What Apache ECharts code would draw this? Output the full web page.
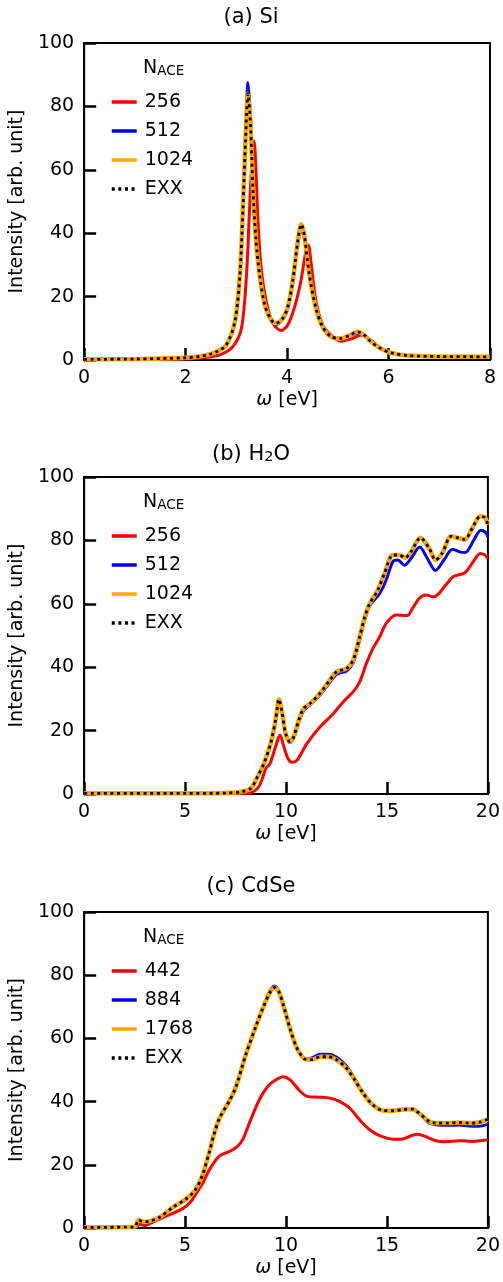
<!DOCTYPE html>
<html><head><meta charset="utf-8">
<script src="https://cdn.jsdelivr.net/npm/echarts@6/dist/echarts.min.js"></script>
<style>html,body{margin:0;padding:0;background:#fff}#c{width:503px;height:1282px}</style>
</head><body><div id="c"></div>
<script>
// ---------- (a) Si ----------
const siX    = [0,1,2,2.3,2.5,2.61,2.8,2.97,3.07,3.13,3.18,3.23,3.28,3.33,3.39,3.46,3.56,3.69,3.78,3.9,4.01,4.11,4.21,4.28,4.34,4.44,4.57,4.7,4.86,5.05,5.25,5.38,5.52,5.65,5.84,6.04,6.37,7,8];
const siEXX  = [0.2,0.3,0.7,1.2,1.9,2.6,4.7,12,26.8,47.8,68.9,84,74,53,37.3,26.8,17.4,12.6,11.6,12.8,16.5,24.7,37.3,42.8,39.4,26.8,16.3,10.5,7.4,6.8,7.9,8.9,7.9,5.8,3.7,2.3,1.4,1.1,1.0];
const si1024 = [0.2,0.3,0.7,1.2,1.9,2.6,4.7,12,26.8,47.8,68.9,84,74,53,37.3,26.8,17.4,12.6,11.6,12.8,16.5,24.7,37.3,42.8,39.4,26.8,16.3,10.5,7.4,6.8,7.9,8.9,7.9,5.8,3.7,2.3,1.4,1.1,1.0];
const si512  = [0.2,0.3,0.7,1.2,1.9,2.6,4.7,12,27,49,70.5,87.5,76,54,37.5,26.5,17,12.2,11.2,12.5,16,24,36.5,41,38.5,26.5,16.3,10.5,7.4,6.9,7.7,8.4,7.7,5.8,3.7,2.3,1.4,1.1,1.0];
const siRX   = [0,1,2,2.4,2.67,2.93,3.1,3.2,3.26,3.31,3.35,3.39,3.43,3.49,3.59,3.72,3.88,4.01,4.14,4.27,4.37,4.42,4.47,4.57,4.7,4.8,5.06,5.29,5.46,5.65,5.84,6.04,6.37,7,8];
const si256  = [0.1,0.15,0.3,0.8,1.6,4.2,10,26.8,47.8,63.6,69,58.4,42.6,28.9,18.4,11.6,9.3,11,16.3,24.7,34.2,36.2,31,18.4,11,8.9,5.9,6.8,7.9,6.3,3.7,2.3,1.4,1.1,1.0];

// ---------- (b) H2O ----------
const hX     = [0,5,7,7.77,8.26,8.59,8.91,9.24,9.48,9.65,9.81,9.98,10.19,10.38,10.63,10.87,11.2,11.69,12.18,12.51,13.0,13.33,13.65,13.9,14.15,14.55,14.88,15.29,15.62,15.9,16.19,16.66,17.09,17.41,17.74,18.18,18.56,18.86,19.22,19.62,19.85,20];
const hEXX   = [0.2,0.2,0.3,0.7,1.8,5.5,9.7,16,23.3,29.9,25.4,19.1,16.5,18.1,23.3,27,28.6,31.8,36,38.6,39.6,42.3,49.6,55.9,60.1,64.4,69.6,75.4,75.4,74.5,76.4,80.8,77.5,73.8,76,81.3,80.7,80.3,83.8,87.6,87.2,84.9];
const h1024  = [0.2,0.2,0.3,0.7,1.8,5.5,9.7,16,23.3,29.9,25.4,19.1,16.5,18.1,23.3,27,28.6,31.8,36,38.6,39.6,42.3,49.6,55.9,60.1,64.4,69.6,75.4,75.4,74.5,76.4,80.8,77.5,73.8,76,81.3,80.7,80.3,83.8,87.6,87.2,84.9];
const hBX    = [0,5,7,7.77,8.26,8.59,8.91,9.24,9.48,9.65,9.81,9.98,10.19,10.38,10.63,10.87,11.2,11.69,12.18,12.51,13.0,13.33,13.65,13.9,14.15,14.64,14.96,15.29,15.53,15.87,16.19,16.62,17.0,17.4,17.82,18.25,18.64,18.89,19.3,19.65,19.87,20];
const h512   = [0.2,0.2,0.3,0.7,1.8,5.4,9.6,15.8,23,29.5,25.2,19,16.2,17.6,22.5,26.3,28.2,31.3,35.3,37.8,38.8,41.5,48.6,55,59.4,63.3,67.5,73.3,73.8,72.2,74.3,77.9,74.3,70.5,73.8,77.2,76.3,76.2,80.1,83.2,82.6,81.2];
const hRX    = [0,5,8.1,8.59,8.83,9.0,9.2,9.48,9.7,9.89,10.09,10.3,10.55,11.04,11.69,12.35,12.84,13.33,13.65,13.98,14.31,14.64,14.96,15.45,16.0,16.27,16.6,16.93,17.3,17.58,17.91,18.3,18.86,19.22,19.62,19.85,20];
const h256   = [0.1,0.1,0.2,1.8,4.9,8.1,9.5,14.9,18.6,14.9,11.3,10,10.7,16,21.2,25.4,29.1,32.3,35.4,41.2,46,49.6,53.8,56.5,56.3,58.6,61.7,62.8,62.2,63.3,65.9,68.6,69.8,72.8,75.9,75.4,74.3];

// ---------- (c) CdSe ----------
const cX     = [0,2.4,2.55,2.7,2.9,3.2,3.76,4.41,5.07,5.5,5.85,6.2,6.45,6.7,7.19,7.52,8.0,8.5,8.9,9.2,9.42,9.65,9.89,10.22,10.55,10.96,11.28,11.69,12.1,12.51,13.0,13.41,13.82,14.31,14.8,15.29,15.78,16.27,16.6,17.09,17.42,18.07,18.56,19.05,19.54,20];
const cEXX   = [0.2,0.3,0.6,2.6,2.0,2.1,3.5,6.6,9.3,12,16.5,24,30,34.7,40.2,44.7,54.7,63.7,70.3,74.5,76.1,74.7,70,62.6,56.8,53.4,53.3,54.2,54.2,53.2,50.5,46.8,42.6,38.9,37.2,37.1,37.5,37.6,36.3,33.7,33.2,33.2,33.4,33.2,33.4,34.4];
const c1768  = [0.2,0.3,0.6,2.6,2.0,2.1,3.5,6.6,9.3,12,16.5,24,30,34.7,40.2,44.7,54.7,63.7,70.3,74.5,76.1,74.7,70,62.6,56.8,53.4,53.3,54.2,54.2,53.2,50.5,46.8,42.6,38.9,37.2,37.1,37.5,37.6,36.3,33.7,33.2,33.2,33.4,33.2,33.4,34.4];
const c884   = [0.2,0.3,0.6,2.6,2.0,2.1,3.5,6.6,9.3,12,16.5,24,30,34.7,40.2,44.7,54.7,63.7,70.5,75,76.6,75,70,62.6,56.8,53.6,53.8,55,55,54,51.2,47.2,42.8,38.9,37.2,37.1,37.5,37.6,36.2,33.2,32.7,32.5,32.6,32.3,32.2,32.8];
const cRX    = [0,2.5,2.78,3.0,3.27,4.08,4.9,5.3,5.56,5.9,6.2,6.7,7.19,7.55,7.85,8.2,8.67,9.08,9.48,9.86,10.22,10.71,11.12,11.69,12.18,12.67,13.16,13.65,14.15,14.64,15.29,15.78,16.19,16.52,16.93,17.42,17.91,18.56,19.22,20];
const c442   = [0.1,0.3,1.2,0.7,1.5,3.8,6.2,8.5,11,14.5,18.4,22.8,24.2,25.6,27.9,33.5,40.5,44.7,46.8,47.9,46.8,43.2,41.5,41.4,41.1,40,37.9,34.2,31.1,29.2,28.1,28.2,29.2,29.7,28.9,27.6,27.3,27.6,27.4,27.9];

// ---------- labels / ticks ----------
const titles = ['(a) Si', '{m|(b) H}{s|2}{m|O}', '(c) CdSe'];
const legendNames = [['256','512','1024','EXX'], ['256','512','1024','EXX'], ['442','884','1768','EXX']];
const xMax = [8, 20, 20];
const xStep = [2, 5, 5];
const yMax = 100, yStep = 20;

const F = 'DejaVu Sans';
const gridTops = [43, 477, 912];
const gridH = [317, 317, 316];

const panels = [
  {x:[siRX, siX, siX, siX], y:[si256, si512, si1024, siEXX]},
  {x:[hRX, hBX, hX, hX],    y:[h256, h512, h1024, hEXX]},
  {x:[cRX, cX, cX, cX],     y:[c442, c884, c1768, cEXX]}
];
const styles = [
  {color:'#ff0000', width:3, type:'solid', z:2},
  {color:'#0000ff', width:3, type:'solid', z:3},
  {color:'#ffa500', width:4.5, type:'solid', z:4},
  {color:'#000000', width:2.8, type:[3, 3.6], z:5}
];
const pairs = (xs, ys) => xs.map((x, i) => [x, ys[i]]);

const grid = [], xAxis = [], yAxis = [], series = [], legend = [], graphic = [];
const axisCommon = {
  axisLine: {show:true, onZero:false, lineStyle:{color:'#000', width:2}},
  axisTick: {show:true, inside:true, length:12, lineStyle:{color:'#000', width:2.5}},
  splitLine: {show:false},
};
panels.forEach((p, i) => {
  grid.push({left:82, width:408, top:gridTops[i], height:gridH[i], show:true, borderColor:'#000', borderWidth:2, backgroundColor:'transparent'});
  xAxis.push(Object.assign({}, axisCommon, {
    gridIndex:i, type:'value', min:0, max:xMax[i], interval:xStep[i],
    axisLabel:{fontSize:19, color:'#000', fontFamily:F, margin:9},
    name:'{i|ω} [eV]', nameLocation:'middle', nameGap:40,
    nameTextStyle:{fontSize:19, color:'#000', fontFamily:F, verticalAlign:'middle',
      rich:{i:{fontSize:19, fontStyle:'italic', fontFamily:F, color:'#000'}}}
  }));
  yAxis.push(Object.assign({}, axisCommon, {
    gridIndex:i, type:'value', min:0, max:yMax, interval:yStep,
    axisLabel:{fontSize:19, color:'#000', fontFamily:F, margin:10},
    name:'Intensity [arb. unit]', nameLocation:'middle', nameGap:62, nameRotate:90,
    nameTextStyle:{fontSize:19, color:'#000', fontFamily:F, verticalAlign:'middle'}
  }));
  for (let k = 0; k < 4; k++) {
    const s = styles[k];
    series.push({
      type:'line', name:legendNames[i][k], xAxisIndex:i, yAxisIndex:i,
      data:pairs(p.x[k], p.y[k]), symbol:'none', showSymbol:false, smooth:0.3,
      lineStyle:{color:s.color, width:s.width, type:s.type, cap:'butt'},
      itemStyle:{color:s.color}, z:s.z, clip:true, silent:true
    });
  }
  legend.push({
    data:legendNames[i], orient:'vertical', left:110, top:gridTops[i] + 49, padding:0,
    itemWidth:25, itemHeight:20, itemGap:9, selectedMode:false,
    itemStyle:{opacity:0},
    lineStyle:{width:3.5},
    textStyle:{fontSize:19, color:'#000', fontFamily:F, lineHeight:20, padding:[0,0,0,3]}
  });
  graphic.push({
    type:'text', left:143, top:gridTops[i] + 16,
    style:{text:'{m|N}{s|ACE}', fill:'#000', fontFamily:F,
      rich:{m:{fontSize:19, lineHeight:22, verticalAlign:'bottom', fontFamily:F, fill:'#000'},
            s:{fontSize:13.5, lineHeight:11, verticalAlign:'bottom', fontFamily:F, fill:'#000'}}}
  });
});
const titleY = [18, 453, 887];
titles.forEach((t, i) => {
  graphic.push({
    type:'text', x:251, y:titleY[i],
    style:{text:t, fill:'#000', fontFamily:F, fontSize:21, align:'center', verticalAlign:'middle',
      rich:{m:{fontSize:21, lineHeight:24, verticalAlign:'bottom', fontFamily:F, fill:'#000'},
            s:{fontSize:14.5, lineHeight:14.6, verticalAlign:'bottom', fontFamily:F, fill:'#000'}}}
  });
});

const chart = echarts.init(document.getElementById('c'), null, {renderer:'canvas'});
chart.setOption({
  animation:false, backgroundColor:'#fff',
  textStyle:{fontFamily:F},
  grid, xAxis, yAxis, series, legend, graphic
});
</script></body></html>
